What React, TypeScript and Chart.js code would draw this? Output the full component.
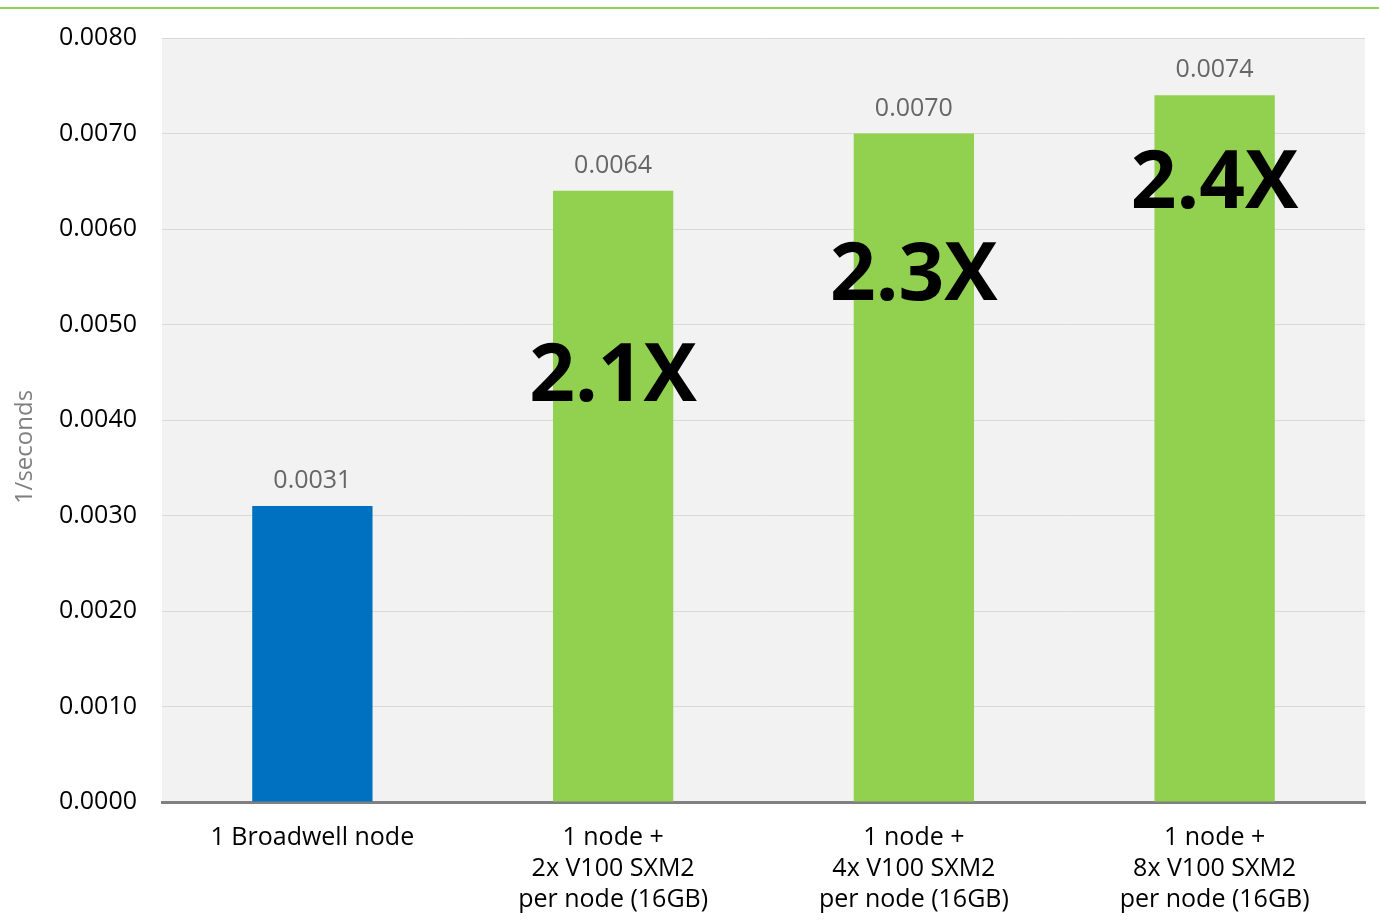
import React, { useEffect, useRef } from "react";
import { Chart, registerables } from "chart.js";

Chart.register(...registerables);

const categories: string[][] = [
  ["1 Broadwell node"],
  ["1 node +", "2x V100 SXM2", "per node (16GB)"],
  ["1 node +", "4x V100 SXM2", "per node (16GB)"],
  ["1 node +", "8x V100 SXM2", "per node (16GB)"],
];
const values: number[] = [0.0031, 0.0064, 0.007, 0.0074];
const barColors: string[] = ["#0070c0", "#92d050", "#92d050", "#92d050"];
const speedupLabels: string[] = ["", "2.1X", "2.3X", "2.4X"];
const speedupY: number[] = [0, 0.0042, 0.00526, 0.00622];
const yTitle = "1/seconds";

const FONT = "'Open Sans', 'DejaVu Sans', sans-serif";

const decorPlugin = {
  id: "decor",
  beforeDraw(chart: any) {
    const { ctx, chartArea } = chart;
    ctx.save();
    ctx.fillStyle = "#f2f2f2";
    ctx.fillRect(chartArea.left, chartArea.top, chartArea.right - chartArea.left, chartArea.bottom - chartArea.top);
    ctx.restore();
  },
  afterDraw(chart: any) {
    const { ctx } = chart;
    ctx.save();
    ctx.strokeStyle = "#92d050";
    ctx.lineWidth = 2;
    ctx.beginPath();
    ctx.moveTo(0, 8);
    ctx.lineTo(chart.width, 8);
    ctx.stroke();
    ctx.fillStyle = "#7f7f7f";
    ctx.font = `24px ${FONT}`;
    ctx.textAlign = "center";
    ctx.textBaseline = "middle";
    ctx.translate(25, 447);
    ctx.rotate(-Math.PI / 2);
    ctx.fillText(yTitle, 0, 0);
    ctx.restore();
  },
  afterDatasetsDraw(chart: any) {
    const { ctx } = chart;
    const meta = chart.getDatasetMeta(0);
    const yScale = chart.scales.y;
    ctx.save();
    meta.data.forEach((bar: any, i: number) => {
      ctx.fillStyle = "#666666";
      ctx.font = `25px ${FONT}`;
      ctx.textAlign = "center";
      ctx.textBaseline = "alphabetic";
      ctx.fillText(values[i].toFixed(4), bar.x, bar.y - 18);
      if (speedupLabels[i]) {
        ctx.fillStyle = "#000000";
        ctx.font = `bold 80px ${FONT}`;
        ctx.fillText(speedupLabels[i], bar.x, yScale.getPixelForValue(speedupY[i]));
      }
    });
    ctx.restore();
  },
};

export default function App() {
  const ref = useRef<HTMLCanvasElement | null>(null);
  useEffect(() => {
    document.body.style.margin = "0";
    if (!ref.current) return;
    const chart = new Chart(ref.current, {
      type: "bar",
      data: {
        labels: categories,
        datasets: [
          {
            data: values,
            backgroundColor: barColors,
            barPercentage: 0.4,
            categoryPercentage: 1,
          },
        ],
      },
      options: {
        responsive: false,
        animation: false,
        layout: { padding: { top: 38, right: 14, left: 0, bottom: 0 } },
        plugins: { legend: { display: false }, tooltip: { enabled: false } },
        scales: {
          x: {
            grid: { display: false },
            border: { display: true, color: "#808080", width: 3 },
            ticks: {
              color: "#000000",
              font: { family: FONT, size: 25, lineHeight: 1.24 },
              padding: 12,
              maxRotation: 0,
              autoSkip: false,
            },
            afterFit: (s: any) => {
              s.height = 118;
              s.paddingLeft = 0;
              s.paddingRight = 0;
            },
          },
          y: {
            min: 0,
            max: 0.008,
            grid: { color: "#d9d9d9", lineWidth: 1, drawTicks: false },
            border: { display: false },
            ticks: {
              stepSize: 0.001,
              color: "#000000",
              font: { family: FONT, size: 25 },
              padding: 25,
              callback: (v: any) => Number(v).toFixed(4),
            },
            afterFit: (s: any) => {
              s.width = 162;
              s.paddingTop = 0;
              s.paddingBottom = 0;
            },
          },
        },
      },
      plugins: [decorPlugin],
    });
    return () => chart.destroy();
  }, []);
  return (
    <div style={{ width: 1379, height: 920 }}>
      <canvas ref={ref} width={1379} height={920} style={{ display: "block" }} />
    </div>
  );
}
